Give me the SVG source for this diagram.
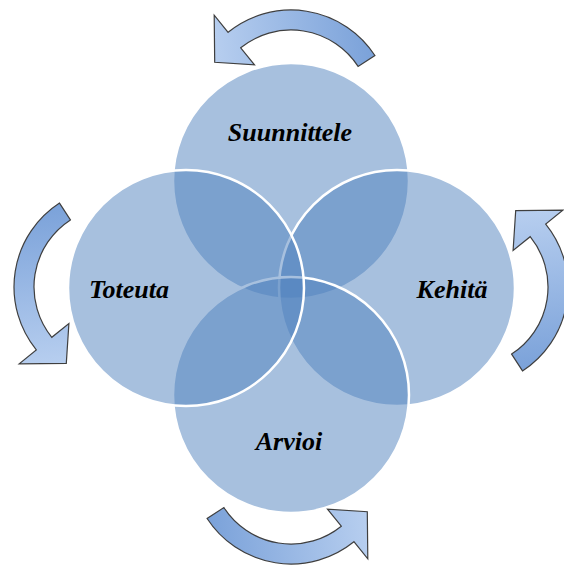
<svg xmlns="http://www.w3.org/2000/svg" xmlns:xlink="http://www.w3.org/1999/xlink" width="564" height="568" viewBox="0 0 564 568">
  <style>
    .petal { fill: #4F81BD; fill-opacity: 0.5; stroke: #ffffff; stroke-width: 2.5; }
    .label { font-family: "Liberation Serif", "Times New Roman", serif; font-size: 26px; font-weight: bold; font-style: italic; fill: #000000; text-anchor: middle; }
    .cycle-arrow { fill: url(#arrowFill); stroke: #3f3f3f; stroke-width: 1.2; stroke-linejoin: miter; }
  </style>
  <defs>
    <!-- gradient runs from the arrow head (light) to the tail (darker), in the arrow's own frame -->
    <linearGradient id="arrowFill" gradientUnits="userSpaceOnUse" x1="-90" y1="-235" x2="90" y2="-255">
      <stop offset="0" stop-color="#bcd2f1"/>
      <stop offset="1" stop-color="#779fd8"/>
    </linearGradient>
    <!-- curved block arrow, drawn relative to the centre of the four circles (arc centre at 0,-177) -->
    <path id="arc-arrow" class="cycle-arrow"
          d="M 83.9,-231.5
             A 100 100 0 0 0 -62.9,-254.7
             L -76.8,-271.8
             L -76.3,-224.7
             L -36.5,-222.1
             L -50.3,-239.2
             A 80 80 0 0 1 67.1,-220.6
             Z"/>
  </defs>

  <!-- four overlapping circles -->
  <g id="node-suunnittele">
    <circle class="petal" cx="291" cy="181" r="118"/>
    <text class="label" x="290" y="141">Suunnittele</text>
  </g>
  <g id="node-kehita">
    <circle class="petal" cx="397" cy="288" r="118"/>
    <text class="label" x="452" y="298">Kehitä</text>
  </g>
  <g id="node-arvioi">
    <circle class="petal" cx="291" cy="395" r="118"/>
    <text class="label" x="289" y="450">Arvioi</text>
  </g>
  <g id="node-toteuta">
    <circle class="petal" cx="186" cy="288" r="118"/>
    <text class="label" x="129" y="298">Toteuta</text>
  </g>

  <!-- cycle arrows around the circles -->
  <g id="connectors" transform="translate(291,287)">
    <use xlink:href="#arc-arrow"/>
    <use xlink:href="#arc-arrow" transform="rotate(-90)"/>
    <use xlink:href="#arc-arrow" transform="rotate(180)"/>
    <use xlink:href="#arc-arrow" transform="rotate(90)"/>
  </g>
</svg>
